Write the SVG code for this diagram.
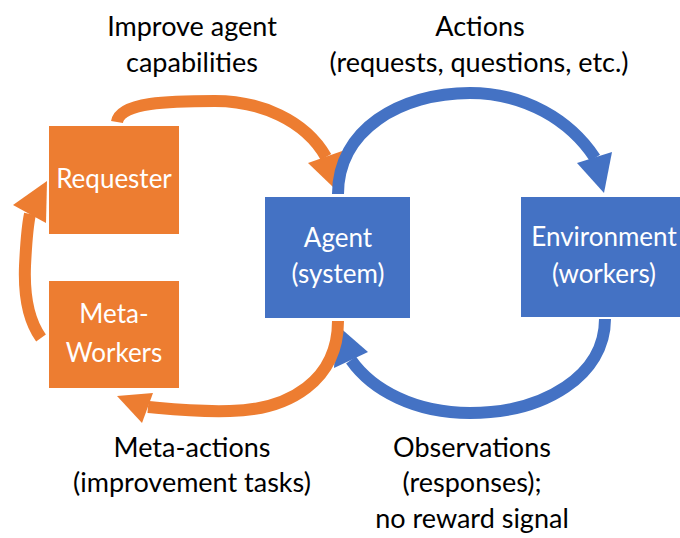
<svg xmlns="http://www.w3.org/2000/svg" width="680" height="538" viewBox="0 0 680 538">
  <style>
    .lbl { font-family: Lato, "Liberation Sans", sans-serif; font-size: 27px; fill: #000; text-anchor: middle; }
    .nt { font-family: Lato, "Liberation Sans", sans-serif; font-size: 26px; fill: #fff; text-anchor: middle; }
    .orange { fill: #ED7D31; }
    .blue { fill: #4472C4; }
    .shaft-o { fill: none; stroke: #ED7D31; stroke-width: 12; }
    .shaft-b { fill: none; stroke: #4472C4; stroke-width: 12; }
  </style>

  <!-- connectors: thick curved arrows -->
  <g id="connectors">
    <!-- Requester -> Agent (improve capabilities) -->
    <path class="shaft-o" d="M117,122 C120,102 170,101 215,101 C260,101 305,120 326,157"/>
    <polygon class="orange" points="308,163 345,150 333,187"/>
    <!-- Agent -> Environment (actions) -->
    <path class="shaft-b" d="M338,194 C338,130 400,93 470,93 C525,93 570,120 595,158"/>
    <polygon class="blue" points="577,163 612,152 604,193"/>
    <!-- Environment -> Agent (observations) -->
    <path class="shaft-b" d="M605,319 C605,375 545,413 470,413 C415,413 372,390 351,360"/>
    <polygon class="blue" points="368,352 334,368 337,325"/>
    <!-- Agent -> Meta-Workers (meta-actions) -->
    <path class="shaft-o" d="M338,321 C338,380 290,410 230,411 C195,412 170,409 148,407"/>
    <polygon class="orange" points="153,393 142,423 117,396"/>
    <!-- Meta-Workers -> Requester -->
    <path class="shaft-o" d="M41,338 C28,320 24,292 25,266 C26,245 27,228 30,214"/>
    <polygon class="orange" points="13,205 46,223 47,181"/>
  </g>

  <g id="requester">
    <rect class="orange" x="49" y="126" width="130" height="108"/>
    <text class="nt" x="114" y="188">Requester</text>
  </g>

  <g id="meta-workers">
    <rect class="orange" x="49" y="281" width="130" height="107"/>
    <text class="nt" x="114" y="323">Meta-</text>
    <text class="nt" x="114" y="362">Workers</text>
  </g>

  <g id="agent">
    <rect class="blue" x="265" y="197" width="145" height="121"/>
    <text class="nt" x="338" y="247">Agent</text>
    <text class="nt" x="338" y="283">(system)</text>
  </g>

  <g id="environment">
    <rect class="blue" x="521" y="197" width="166" height="120"/>
    <text class="nt" x="604" y="246">Environment</text>
    <text class="nt" x="604" y="283">(workers)</text>
  </g>

  <!-- edge labels -->
  <g id="labels">
    <text class="lbl" x="192" y="36">Improve agent</text>
    <text class="lbl" x="192" y="72">capabilities</text>
    <text class="lbl" x="480" y="36">Actions</text>
    <text class="lbl" x="479" y="72">(requests, questions, etc.)</text>
    <text class="lbl" x="192" y="457">Meta-actions</text>
    <text class="lbl" x="192" y="492">(improvement tasks)</text>
    <text class="lbl" x="472" y="457">Observations</text>
    <text class="lbl" x="472" y="492">(responses);</text>
    <text class="lbl" x="472" y="528">no reward signal</text>
  </g>
</svg>
